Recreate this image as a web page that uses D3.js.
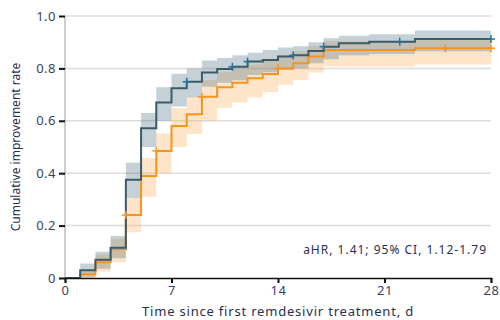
<!DOCTYPE html>
<html>
<head>
<meta charset="utf-8">
<script src="https://cdn.jsdelivr.net/npm/d3@7"></script>
<style>
  body { margin: 0; background: #fff; }
  svg { display: block; }
  text { font-family: "Noto Sans", "Liberation Sans", sans-serif; }
</style>
</head>
<body>
<div id="chart"></div>
<script>
// step times (days) and estimates for the two groups
var darkTimes  = [0, 1, 2, 3, 4, 5, 6, 7, 8, 9, 10, 11, 12, 13, 14, 15, 16, 17, 18, 20, 23, 28];
var darkRate   = [0, 0.03, 0.07, 0.115, 0.375, 0.572, 0.67, 0.724, 0.749, 0.784, 0.798, 0.806, 0.826, 0.832, 0.845, 0.85, 0.866, 0.883, 0.896, 0.902, 0.912, 0.912];
var darkUpper  = [0, 0.055, 0.10, 0.16, 0.44, 0.63, 0.728, 0.78, 0.80, 0.83, 0.84, 0.85, 0.86, 0.87, 0.88, 0.885, 0.90, 0.915, 0.925, 0.93, 0.945, 0.945];
var darkLower  = [0, 0.005, 0.035, 0.075, 0.305, 0.50, 0.60, 0.655, 0.69, 0.73, 0.745, 0.755, 0.775, 0.785, 0.795, 0.80, 0.82, 0.835, 0.85, 0.855, 0.865, 0.865];
var darkCensor = [8, 11, 12, 15, 17, 22, 28];

var orangeTimes  = [0, 1, 2, 3, 4, 5, 6, 7, 8, 9, 10, 11, 12, 13, 14, 15, 16, 17, 23, 28];
var orangeRate   = [0, 0.014, 0.06, 0.11, 0.24, 0.389, 0.485, 0.58, 0.625, 0.692, 0.728, 0.745, 0.762, 0.779, 0.80, 0.82, 0.845, 0.87, 0.877, 0.877];
var orangeUpper  = [0, 0.03, 0.09, 0.15, 0.305, 0.458, 0.552, 0.648, 0.692, 0.755, 0.785, 0.80, 0.815, 0.83, 0.85, 0.865, 0.885, 0.905, 0.91, 0.91];
var orangeLower  = [0, 0, 0.025, 0.06, 0.175, 0.31, 0.40, 0.50, 0.55, 0.60, 0.65, 0.67, 0.69, 0.71, 0.737, 0.756, 0.784, 0.807, 0.815, 0.815];
var orangeCensor = [4, 6, 9, 14, 25, 28];

var xTicks = [0, 7, 14, 21, 28];
var yTicks = [0, 0.2, 0.4, 0.6, 0.8, 1.0];

var width = 500, height = 320;
var margin = {left: 65, right: 9, top: 16, bottom: 42};

var svg = d3.select('#chart').append('svg')
  .attr('width', width)
  .attr('height', height);

var x = d3.scaleLinear().domain([0, 28]).range([margin.left, width - margin.right]);
var y = d3.scaleLinear().domain([0, 1]).range([height - margin.bottom, margin.top]);

// gridlines
svg.selectAll('.grid')
  .data(yTicks.filter(function(d){ return d > 0; }))
  .enter()
  .append('line')
  .attr('x1', x(0)).attr('x2', x(28))
  .attr('y1', function(d){ return y(d); })
  .attr('y2', function(d){ return y(d); })
  .attr('stroke', '#dcdcdc')
  .attr('stroke-width', 1.5);

// y axis line (gray)
svg.append('line')
  .attr('x1', x(0)).attr('x2', x(0))
  .attr('y1', y(0)).attr('y2', y(1))
  .attr('stroke', '#bdbdbd')
  .attr('stroke-width', 1.5);

function zip(times, vals){
  return times.map(function(t, i){ return [t, vals[i]]; });
}
function zipBand(times, lo, hi){
  return times.map(function(t, i){ return {t: t, lo: lo[i], hi: hi[i]}; });
}

var area = d3.area()
  .curve(d3.curveStepAfter)
  .x(function(d){ return x(d.t); })
  .y0(function(d){ return y(d.lo); })
  .y1(function(d){ return y(d.hi); });

var line = d3.line()
  .curve(d3.curveStepAfter)
  .x(function(d){ return x(d[0]); })
  .y(function(d){ return y(d[1]); });

svg.append('path')
  .datum(zipBand(orangeTimes, orangeLower, orangeUpper))
  .attr('d', area)
  .attr('fill', 'rgba(252, 178, 100, 0.35)');

svg.append('path')
  .datum(zipBand(darkTimes, darkLower, darkUpper))
  .attr('fill', 'rgba(80, 115, 135, 0.33)')
  .attr('d', area);

svg.append('path')
  .datum(zip(orangeTimes, orangeRate))
  .attr('d', line)
  .attr('fill', 'none')
  .attr('stroke', '#f7941d')
  .attr('stroke-width', 2);

svg.append('path')
  .datum(zip(darkTimes, darkRate))
  .attr('d', line)
  .attr('fill', 'none')
  .attr('stroke', '#3b5b68')
  .attr('stroke-width', 2);

// censor marks
function valueAt(times, vals, t){
  var i = d3.bisectRight(times, t) - 1;
  return vals[Math.max(0, i)];
}
function drawCensor(times, vals, marks, color){
  var g = svg.append('g');
  marks.forEach(function(t){
    var cx = x(t), cy = y(valueAt(times, vals, t));
    g.append('line').attr('x1', cx - 4).attr('x2', cx + 4).attr('y1', cy).attr('y2', cy)
      .attr('stroke', color).attr('stroke-width', 1.5);
    g.append('line').attr('x1', cx).attr('x2', cx).attr('y1', cy - 4).attr('y2', cy + 4)
      .attr('stroke', color).attr('stroke-width', 1.5);
  });
}
drawCensor(orangeTimes, orangeRate, orangeCensor, '#f7941d');
drawCensor(darkTimes, darkRate, darkCensor, '#2b6f95');

// x axis
var xAxis = svg.append('g')
  .attr('transform', 'translate(0,' + y(0) + ')')
  .call(d3.axisBottom(x).tickValues(xTicks).tickSize(5).tickPadding(3).tickFormat(d3.format('d')));
xAxis.select('.domain').attr('stroke', '#111').attr('stroke-width', 1.5);
xAxis.selectAll('.tick line').attr('stroke', '#111').attr('stroke-width', 2);
xAxis.selectAll('.tick text').attr('fill', '#3a3f5c')
  .style('font-size', '13px').style('letter-spacing', '0.5px');

// y axis ticks
var yAxis = svg.append('g')
  .attr('transform', 'translate(' + x(0) + ',0)')
  .call(d3.axisLeft(y).tickValues(yTicks).tickSize(6).tickPadding(3)
    .tickFormat(function(d){ return d === 0 ? '0' : d3.format('.1f')(d); }));
yAxis.select('.domain').remove();
yAxis.selectAll('.tick line').attr('stroke', '#111').attr('stroke-width', 2);
yAxis.selectAll('.tick text').attr('fill', '#3a3f5c')
  .style('font-size', '13px').style('letter-spacing', '0.5px');

// labels
svg.append('text')
  .attr('x', (x(0) + x(28)) / 2)
  .attr('y', 316)
  .attr('text-anchor', 'middle')
  .attr('fill', '#2a2f4f')
  .style('font-size', '13px')
  .style('letter-spacing', '0.8px')
  .text('Time since first remdesivir treatment, d');

svg.append('text')
  .attr('transform', 'translate(20,' + ((y(0) + y(1)) / 2) + ') rotate(-90)')
  .attr('text-anchor', 'middle')
  .attr('fill', '#2a2f4f')
  .style('font-size', '12px')
  .text('Cumulative improvement rate');

svg.append('text')
  .attr('x', 487)
  .attr('y', 254)
  .attr('text-anchor', 'end')
  .attr('fill', '#2a2f4f')
  .style('font-size', '12px')
  .style('letter-spacing', '1px')
  .text('aHR, 1.41; 95% CI, 1.12-1.79');
</script>
</body>
</html>
